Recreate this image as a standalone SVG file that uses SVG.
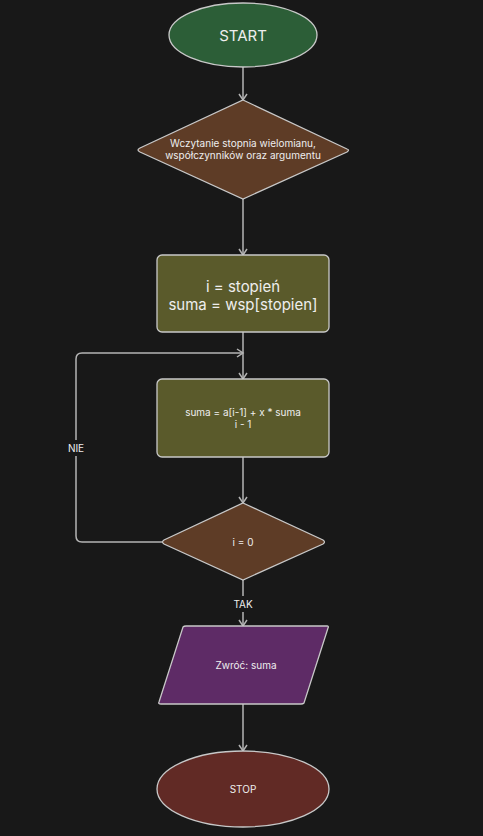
<svg xmlns="http://www.w3.org/2000/svg" width="483" height="836" viewBox="0 0 483 836">
<defs>
<style>
.n{stroke:#c8c8c8;stroke-width:1.3}
.t{font-family:Inter,"Noto Sans",sans-serif;fill:#eeeeee;text-anchor:middle}
.e{fill:none;stroke:#b4b4b4;stroke-width:1.5}
.l{font-family:Inter,"Noto Sans",sans-serif;fill:#eeeeee;font-size:10px;text-anchor:middle}
</style>
<marker id="a" markerWidth="10" markerHeight="10" refX="8" refY="5" orient="auto" markerUnits="userSpaceOnUse">
<path d="M2,1 L8,5 L2,9" fill="none" stroke="#b4b4b4" stroke-width="1.5"/>
</marker>
</defs>
<rect width="483" height="836" fill="#181818"/>
<g id="edges">
<path class="e" d="M243,67 V100" marker-end="url(#a)"/>
<path class="e" d="M243,199 V255" marker-end="url(#a)"/>
<path class="e" d="M243,332 V379" marker-end="url(#a)"/>
<path class="e" d="M243,457 V503" marker-end="url(#a)"/>
<path class="e" d="M162,542 H82 Q76,542 76,536 V359 Q76,353 82,353 H243" marker-end="url(#a)"/>
<rect x="64" y="440" width="24" height="16" fill="#181818"/>
<text class="l" x="76" y="452">NIE</text>
<path class="e" d="M243,580 V626" marker-end="url(#a)"/>
<rect x="230" y="596" width="26" height="16" fill="#181818"/>
<text class="l" x="243" y="608">TAK</text>
<path class="e" d="M243,704 V751" marker-end="url(#a)"/>
</g>
<g id="start">
<ellipse class="n" cx="243" cy="35" rx="74" ry="32" fill="#2c5e37"/>
<text class="t" x="243" y="41" font-size="15">START</text>
</g>
<g id="input">
<path class="n" d="M243,100 L347,149 Q350,150 347,152 L243,199 L140,152 Q136,150 140,148 Z" fill="#5e3c26"/>
<text class="t" x="243" y="147" font-size="10">Wczytanie stopnia wielomianu,</text>
<text class="t" x="243" y="159" font-size="10">współczynników oraz argumentu</text>
</g>
<g id="init">
<rect class="n" x="157" y="255" width="172" height="77" rx="5" fill="#5a5a2b"/>
<text class="t" x="243" y="292" font-size="15">i = stopień</text>
<text class="t" x="243" y="310" font-size="15">suma = wsp[stopien]</text>
</g>
<g id="step">
<rect class="n" x="157" y="379" width="172" height="78" rx="5" fill="#5a5a2b"/>
<text class="t" x="243" y="416" font-size="10">suma = a[i-1] + x * suma</text>
<text class="t" x="243" y="428" font-size="10">i - 1</text>
</g>
<g id="cond">
<path class="n" d="M243,503 L323,540 Q326,542 323,544 L243,580 L164,544 Q161,542 164,540 Z" fill="#5e3c26"/>
<text class="t" x="243" y="546" font-size="10">i = 0</text>
</g>
<g id="output">
<path class="n" d="M186,626 H327 Q329,626 328,628 L304,703 Q303,704 301,704 H161 Q158,704 159,702 L183,627 Q184,626 186,626 Z" fill="#5e2b66"/>
<text class="t" x="246" y="669" font-size="10">Zwróć: suma</text>
</g>
<g id="stop">
<ellipse class="n" cx="243" cy="789" rx="86" ry="38" fill="#612a25"/>
<text class="t" x="243" y="793" font-size="10">STOP</text>
</g>
</svg>
